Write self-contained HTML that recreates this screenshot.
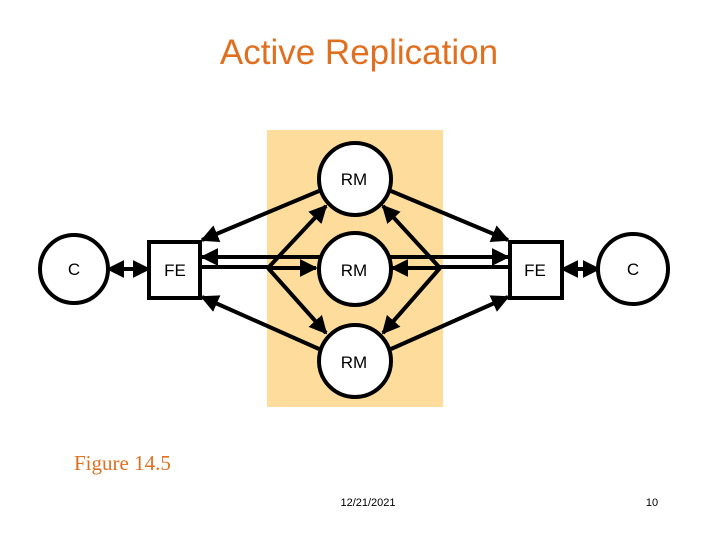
<!DOCTYPE html>
<html><head><style>
html,body{margin:0;padding:0;background:#fff;}
body{width:720px;height:540px;overflow:hidden;position:relative;}
</style></head><body>
<svg width="720" height="540" viewBox="0 0 720 540" xmlns="http://www.w3.org/2000/svg">
<defs>
<marker id="a" viewBox="0 0 10 10" refX="9" refY="5" markerWidth="4.5" markerHeight="4.5" orient="auto-start-reverse" markerUnits="strokeWidth">
<path d="M0,0 L10,5 L0,10 z" fill="#000"/></marker>
</defs>
<text x="359" y="64" text-anchor="middle" font-family="Liberation Sans, sans-serif" font-size="35" fill="#e07020">Active Replication</text>
<rect x="267" y="130" width="176" height="277" fill="#fddc9c"/>
<g stroke="#000" stroke-width="4" fill="none">
<!-- C to FE -->
<line x1="108" y1="269" x2="149" y2="269" marker-start="url(#a)" marker-end="url(#a)"/>
<line x1="562" y1="269" x2="599" y2="269" marker-start="url(#a)" marker-end="url(#a)"/>
<!-- RMs to FEs -->
<line x1="319" y1="191" x2="202" y2="240" marker-end="url(#a)"/>
<line x1="319" y1="349" x2="202" y2="297" marker-end="url(#a)"/>
<line x1="391" y1="191" x2="508" y2="240" marker-end="url(#a)"/>
<line x1="391" y1="349" x2="508" y2="297" marker-end="url(#a)"/>
<!-- horizontal line -->
<line x1="202" y1="257" x2="508" y2="257" marker-start="url(#a)" marker-end="url(#a)"/>
<!-- FE to junctions -->
<polyline points="200,267 268,267"/>
<polyline points="510,267 440,267"/>
<line x1="268" y1="268" x2="326" y2="206" marker-end="url(#a)"/>
<line x1="268" y1="268" x2="316" y2="268" marker-end="url(#a)"/>
<line x1="268" y1="268" x2="326" y2="333" marker-end="url(#a)"/>
<line x1="440" y1="268" x2="383" y2="206" marker-end="url(#a)"/>
<line x1="440" y1="268" x2="392" y2="268" marker-end="url(#a)"/>
<line x1="440" y1="268" x2="383" y2="333" marker-end="url(#a)"/>
</g>
<g stroke="#000" stroke-width="4" fill="#fff">
<circle cx="74" cy="269" r="34"/>
<circle cx="633" cy="269" r="35"/>
<circle cx="355" cy="179" r="36"/>
<circle cx="355" cy="269" r="36"/>
<circle cx="355" cy="361" r="36"/>
<rect x="149" y="242" width="51" height="56"/>
<rect x="510" y="242" width="52" height="56"/>
</g>
<g font-family="Liberation Sans, sans-serif" font-size="17" fill="#000" text-anchor="middle">
<text x="74" y="275">C</text>
<text x="633" y="275">C</text>
<text x="175" y="276">FE</text>
<text x="535" y="276">FE</text>
<text x="354" y="185">RM</text>
<text x="354" y="276">RM</text>
<text x="354" y="368">RM</text>
</g>
<text x="74" y="470" font-family="Liberation Serif, serif" font-size="21" fill="#e07020">Figure 14.5</text>
<text x="368" y="506" text-anchor="middle" font-family="Liberation Sans, sans-serif" font-size="11" fill="#000">12/21/2021</text>
<text x="652" y="506" text-anchor="middle" font-family="Liberation Sans, sans-serif" font-size="11" fill="#000">10</text>
</svg>
</body></html>
